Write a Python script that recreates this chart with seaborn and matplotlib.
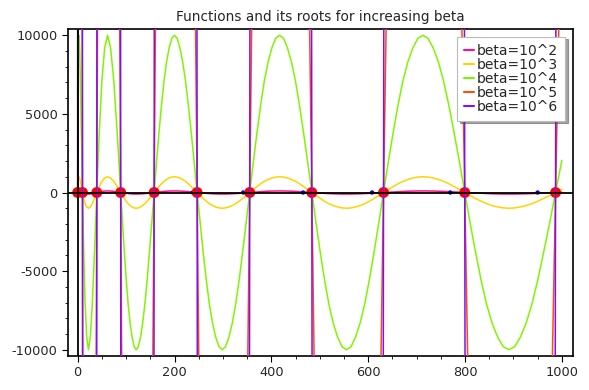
# Functions and roots for increasing beta (sage style plot)
import pandas as pd
import matplotlib
matplotlib.use("Agg")
import matplotlib.pyplot as plt
from matplotlib.ticker import MultipleLocator
import seaborn as sns

## Data ##

betas = [1e2, 1e3, 1e4, 1e5, 1e6]
labels = ["beta=10^2", "beta=10^3", "beta=10^4", "beta=10^5", "beta=10^6"]
colors = ["#ff0f80", "#ffd400", "#80f500", "#ff4a10", "#7a10ff"]

# sample positions along x (one line per half wave)
x_pts = [0.0, 0.2, 0.6, 1.4, 2.5, 3.9, 5.6, 7.6,
         9.9, 12.5, 15.4, 18.7, 22.2, 26.1, 30.2, 34.7,
         39.5, 44.6, 50.0, 55.7, 61.7, 68.0, 74.6, 81.6,
         88.8, 92.6, 96.4, 100.3, 104.2, 108.3, 112.4, 116.6, 120.9, 125.3, 129.7, 134.2, 138.8, 143.5, 148.2, 153.0,
         157.9, 162.9, 167.9, 173.1, 178.3, 183.6, 188.9, 194.4, 199.9, 205.5, 211.1, 216.9, 222.7, 228.6, 234.6, 240.6,
         246.7, 253.0, 259.2, 265.6, 272.0, 278.6, 285.1, 291.8, 298.6, 305.4, 312.3, 319.3, 326.3, 333.5, 340.7, 347.9,
         355.3, 362.8, 370.3, 377.9, 385.5, 393.3, 401.1, 409.0, 417.0, 425.1, 433.2, 441.4, 449.7, 458.1, 466.5, 475.0,
         483.6, 492.3, 501.0, 509.9, 518.8, 527.8, 536.8, 546.0, 555.2, 564.5, 573.8, 583.3, 592.8, 602.4, 612.1, 621.8,
         631.7, 641.6, 651.5, 661.6, 671.7, 682.0, 692.3, 702.6, 713.1, 723.6, 734.2, 744.9, 755.6, 766.5, 777.4, 788.4,
         799.4, 810.6, 821.8, 833.1, 844.5, 855.9, 867.4, 879.1, 890.7, 902.5, 914.3, 926.2, 938.2, 950.3, 962.4, 974.7,
         987.0, 1000.0]

# beta=10^4 curve (green) at those positions
green_y = [0, 3800, 7100, 9200, 10000, 9200, 7100, 3800,
           0, -3800, -7100, -9200, -10000, -9200, -7100, -3800,
           0, 3800, 7100, 9200, 10000, 9200, 7100, 3800,
           0, -1950, -3800, -5560, -7100, -8310, -9200, -9810, -10000, -9810, -9200, -8310, -7100, -5560, -3800, -1950,
           0, 1950, 3800, 5560, 7100, 8310, 9200, 9810, 10000, 9810, 9200, 8310, 7100, 5560, 3800, 1950,
           0, -1950, -3800, -5560, -7100, -8310, -9200, -9810, -10000, -9810, -9200, -8310, -7100, -5560, -3800, -1950,
           0, 1950, 3800, 5560, 7100, 8310, 9200, 9810, 10000, 9810, 9200, 8310, 7100, 5560, 3800, 1950,
           0, -1950, -3800, -5560, -7100, -8310, -9200, -9810, -10000, -9810, -9200, -8310, -7100, -5560, -3800, -1950,
           0, 1950, 3800, 5560, 7100, 8310, 9200, 9810, 10000, 9810, 9200, 8310, 7100, 5560, 3800, 1950,
           0, -1950, -3800, -5560, -7100, -8310, -9200, -9810, -10000, -9810, -9200, -8310, -7100, -5560, -3800, -1950,
           0, 2050]

# roots (big red dots) and the small blue dots
root_x = [0.0, 9.9, 39.5, 88.8, 157.9, 246.7, 355.3, 483.6, 631.7, 799.4, 987.0]
guess_x = [0.0, 9.5, 38.0, 85.5, 152.0, 237.5, 342.0, 465.5, 608.0, 769.5, 950.0]

## Long table for seaborn ##
rows = []
for b, lab in zip(betas, labels):
    for xv, gv in zip(x_pts, green_y):
        rows.append({"x": xv, "y": gv * b / 1e4, "curve": lab})
df = pd.DataFrame(rows)

## Plot ##
sns.set_style("white")
plt.rcParams["font.family"] = ["DejaVu Sans"]
plt.rcParams["axes.unicode_minus"] = False

fig = plt.figure(figsize=(5.89, 3.90), dpi=100)
ax = fig.add_axes([68 / 589, 34 / 390, (573 - 68) / 589, (356 - 29) / 390])

sns.lineplot(data=df, x="x", y="y", hue="curve", palette=dict(zip(labels, colors)),
             estimator=None, sort=False, linewidth=1.1, ax=ax)
ax.lines[3].set_zorder(3)
ax.lines[4].set_zorder(3)

sns.scatterplot(x=guess_x, y=[0] * len(guess_x), color="#0000ff", s=10,
                edgecolor="none", zorder=2.4, ax=ax)
sns.scatterplot(x=root_x, y=[0] * len(root_x), color="#ff0000", s=62,
                edgecolor="none", zorder=2.5, ax=ax)

# axes through origin
ax.axhline(0, color="black", lw=1.3, zorder=3.5)
ax.axvline(0, color="black", lw=1.3, zorder=3.5)

ax.set_xlim(-20, 1023)
ax.set_ylim(-10400, 10400)
ax.set_xticks([0, 200, 400, 600, 800, 1000])
ax.set_yticks([-10000, -5000, 0, 5000, 10000])
ax.xaxis.set_minor_locator(MultipleLocator(50))
ax.yaxis.set_minor_locator(MultipleLocator(1000))
ax.tick_params(which="major", direction="out", length=4, width=0.8,
               labelsize=9.3, color="black", bottom=True, left=True)
ax.tick_params(which="minor", direction="out", length=2, width=0.6,
               color="black", bottom=True, left=True)
for s in ax.spines.values():
    s.set_color("black")
    s.set_linewidth(1.2)
ax.set_xlabel("")
ax.set_ylabel("")
ax.set_title("Functions and its roots for increasing beta", fontsize=9.8, pad=6)

handles, labs = ax.get_legend_handles_labels()
leg = ax.legend(handles[:5], labs[:5], loc="upper right", fontsize=10,
                handlelength=0.75, handletextpad=0.2, labelspacing=0.0,
                borderpad=0.5, borderaxespad=0.55, shadow=True,
                fancybox=False, framealpha=1, edgecolor="#bbbbbb")
leg.get_frame().set_linewidth(0.8)
for h in leg.get_lines():
    h.set_linewidth(1.5)

fig.savefig("out.png", dpi=100)
